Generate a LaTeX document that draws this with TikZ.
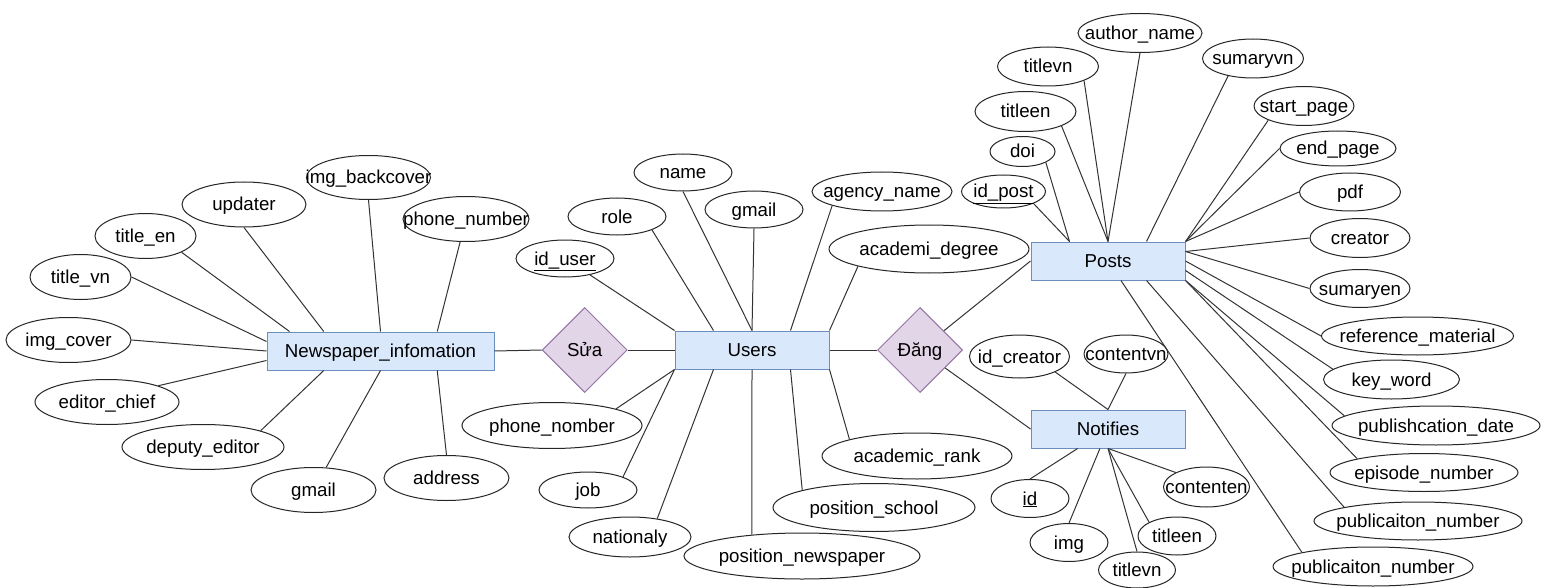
\documentclass[tikz,border=0pt]{standalone}
\usepackage{fontspec}
\setmainfont{Liberation Sans}
\usetikzlibrary{shapes.geometric}

\definecolor{entityfill}{HTML}{DAE8FC}
\definecolor{entityline}{HTML}{6C8EBF}
\definecolor{relfill}{HTML}{E1D5E7}
\definecolor{relline}{HTML}{9673A6}

% zero-width label so that the shape keeps the size it is given
\newcommand\ctr[1]{\makebox[0pt]{#1}}

\tikzset{
  base/.style={inner sep=0pt, text height=17pt, text depth=4pt,
    font=\fontsize{18.7}{22}\selectfont, line width=1pt},
  attr/.style 2 args={base, ellipse, draw=black!85, fill=white,
    minimum width=#1pt, minimum height=#2pt},
  entity/.style={base, rectangle, draw=entityline, fill=entityfill,
    minimum width=#1pt, minimum height=38pt},
  rel/.style={base, diamond, draw=relline, fill=relfill,
    minimum width=85pt, minimum height=85pt},
  link/.style={draw=black!80, line width=1pt}
}

\begin{document}
\begin{tikzpicture}[x=1pt,y=-1pt]
\fill[white] (0,0) rectangle (1547,588);
\useasboundingbox (0,0) rectangle (1547,588);

% entities and relationships
\node[entity=227] (np) at (380.5,351) {\ctr{Newspaper\_infomation}};
\node[entity=154] (u)  at (752,350)   {\ctr{Users}};
\node[entity=154] (p)  at (1108,261)  {\ctr{Posts}};
\node[entity=154] (nt) at (1108,429)  {\ctr{Notifies}};
\node[rel] (sua)  at (584.7,350) {\ctr{Sửa}};
\node[rel] (dang) at (920,350)   {\ctr{Đăng}};

% attributes of Newspaper_infomation
\node[attr={124}{45}] (aUpd)  at (244,204.5)   {\ctr{updater}};
\node[attr={101}{45}] (aTen)  at (145.5,236)   {\ctr{title\_en}};
\node[attr={101}{45}] (aTvn)  at (80.5,277)    {\ctr{title\_vn}};
\node[attr={125}{45}] (aCov)  at (68.5,340)    {\ctr{img\_cover}};
\node[attr={144}{45}] (aEd)   at (107,402)     {\ctr{editor\_chief}};
\node[attr={162}{45}] (aDep)  at (203,447)     {\ctr{deputy\_editor}};
\node[attr={125}{45}] (aNgm)  at (313.5,490)   {\ctr{gmail}};
\node[attr={125}{45}] (aAdr)  at (446.5,478)   {\ctr{address}};
\node[attr={126}{45}] (aPhn)  at (466,219)     {\ctr{phone\_number}};
\node[attr={124}{44}] (aBck)  at (368.5,177.5) {\ctr{img\_backcover}};

% attributes of Users
\node[attr={98}{37}]  (uName) at (683,172.5) {\ctr{name}};
\node[attr={98}{37}]  (uGm)   at (754,209.5) {\ctr{gmail}};
\node[attr={98}{37}]  (uRole) at (617,216.5) {\ctr{role}};
\node[attr={98}{37}]  (uId)   at (565,258.5) {\ctr{\underline{id\_user}}};
\node[attr={140}{39}] (uAg)   at (882,191.5) {\ctr{agency\_name}};
\node[attr={200}{48}] (uDeg)  at (929,249)   {\ctr{academi\_degree}};
\node[attr={180}{46}] (uPh)   at (552,425.5) {\ctr{phone\_nomber}};
\node[attr={98}{36}]  (uJob)  at (588,490)   {\ctr{job}};
\node[attr={122}{40}] (uNat)  at (630,537)   {\ctr{nationaly}};
\node[attr={236}{46}] (uPn)   at (802,556)   {\ctr{position\_newspaper}};
\node[attr={202}{48}] (uPs)   at (874,507.5) {\ctr{position\_school}};
\node[attr={190}{46}] (uRank) at (917,456)   {\ctr{academic\_rank}};

% attributes of Posts
\node[attr={124}{39}] (pAu)   at (1140,33)     {\ctr{author\_name}};
\node[attr={101}{39}] (pTvn)  at (1048,66.5)   {\ctr{titlevn}};
\node[attr={101}{39}] (pSvn)  at (1253,58.5)   {\ctr{sumaryvn}};
\node[attr={101}{40}] (pTen)  at (1025.5,111.5){\ctr{titleen}};
\node[attr={100}{39}] (pSt)   at (1304,106)    {\ctr{start\_page}};
\node[attr={65}{30}]  (pDoi)  at (1022.5,151.5){\ctr{doi}};
\node[attr={116}{35}] (pEnd)  at (1338,148.5)  {\ctr{end\_page}};
\node[attr={84}{33}]  (pId)   at (1003.5,191.5){\ctr{\underline{id\_post}}};
\node[attr={101}{38}] (pPdf)  at (1350,192)    {\ctr{pdf}};
\node[attr={100}{39}] (pCr)   at (1360,238)    {\ctr{creator}};
\node[attr={100}{38}] (pSen)  at (1360,288.5)  {\ctr{sumaryen}};
\node[attr={192}{38}] (pRef)  at (1417.5,336)  {\ctr{reference\_material}};
\node[attr={136}{39}] (pKey)  at (1391.5,379.5){\ctr{key\_word}};
\node[attr={208}{39}] (pDate) at (1436,425.5)  {\ctr{publishcation\_date}};
\node[attr={188}{38}] (pEp)   at (1424,472.5)  {\ctr{episode\_number}};
\node[attr={208}{38}] (pNa)   at (1418,521)    {\ctr{publicaiton\_number}};
\node[attr={200}{39}] (pNb)   at (1373,566.5)  {\ctr{publicaiton\_number}};

% attributes of Notifies
\node[attr={100}{43}] (nCr)   at (1019.5,356.5){\ctr{id\_creator}};
\node[attr={84}{38}]  (nCvn)  at (1126,354)    {\ctr{contentvn}};
\node[attr={78}{38}]  (nId)   at (1030,498.5)  {\ctr{\underline{id}}};
\node[attr={86}{40}]  (nCen)  at (1206.5,487)  {\ctr{contenten}};
\node[attr={78}{38}]  (nImg)  at (1069,542.5)  {\ctr{img}};
\node[attr={78}{38}]  (nTen)  at (1177,536)    {\ctr{titleen}};
\node[attr={77}{36}]  (nTvn)  at (1137,570)    {\ctr{titlevn}};

% links of Newspaper_infomation
\draw[link] (aUpd.south) -- ([xshift=-56.75pt]np.north);
\draw[link] (aTen.south east) -- ([xshift=23pt]np.north west);
\draw[link] (aTvn.east) -- ([yshift=9.5pt]np.west);
\draw[link] (aCov.east) -- (np.west);
\draw[link] (aEd.north east) -- ([yshift=-9.5pt]np.west);
\draw[link] (aDep.north east) -- ([xshift=-56.75pt]np.south);
\draw[link] (aNgm) -- (np.south);
\draw[link] (aAdr.north) -- ([xshift=56.75pt]np.south);
\draw[link] (aPhn) -- ([xshift=56.75pt]np.north);
\draw[link] (aBck.south) -- (np.north);

% links of Users
\draw[link] (uId) -- (u.north west);
\draw[link] (uRole.south east) -- ([xshift=-38.5pt]u.north);
\draw[link] (uName.south) -- (u.north);
\draw[link] (uGm.south) -- (u.north);
\draw[link] (uAg.south west) -- ([xshift=38.5pt]u.north);
\draw[link] (uDeg.south west) -- (u.north east);
\draw[link] (uPh.north east) -- (u.south west);
\draw[link] (uJob.north east) -- (u.south west);
\draw[link] (uNat.34) -- ([xshift=-38.5pt]u.south);
\draw[link] (uPn.157) -- (u.south);
\draw[link] (uPs.north west) -- ([xshift=38.5pt]u.south);
\draw[link] (uRank.north west) -- (u.south east);

% links of Posts
\draw[link] (pId.south east) -- ([xshift=-38.5pt]p.north);
\draw[link] (pDoi.south east) -- ([xshift=-38.5pt]p.north);
\draw[link] (pTen.south east) -- (p.north);
\draw[link] (pTvn.south east) -- (p.north);
\draw[link] (pAu.south) -- (p.north);
\draw[link] (pSvn.215) -- ([xshift=38.5pt]p.north);
\draw[link] (pSt.south west) -- (p.north east);
\draw[link] (pEnd.west) -- (p.north east);
\draw[link] (pPdf.west) -- (p.north east);
\draw[link] (pCr.west) -- ([yshift=9.5pt]p.east);
\draw[link] (pSen.west) -- ([yshift=9.5pt]p.east);
\draw[link] (pRef.west) -- (p.east);
\draw[link] (pKey.170) -- ([yshift=-9.5pt]p.east);
\draw[link] (pDate.174) -- (p.south east);
\draw[link] (pEp.north west) -- (p.south east);
\draw[link] (pNa.north west) -- ([xshift=38.5pt]p.south);
\draw[link] (p) -- (pNb.north west);

% links of Notifies
\draw[link] (nCr.south east) -- (nt.north);
\draw[link] (nCvn.south) -- (nt.north);
\draw[link] (nt) -- (nId.north);
\draw[link] (nt) -- (nImg.north);
\draw[link] (nTvn.north) -- (nt.south);
\draw[link] (nTen.north west) -- (nt.south);
\draw[link] (nCen.north west) -- (nt.south);

% relationship links
\draw[link] (np.east) -- (sua.west);
\draw[link] (sua.east) -- (u.west);
\draw[link] (u.east) -- (dang.west);
\draw[link] (dang) -- (p.west);
\draw[link] (dang) -- (nt.west);
\end{tikzpicture}
\end{document}
